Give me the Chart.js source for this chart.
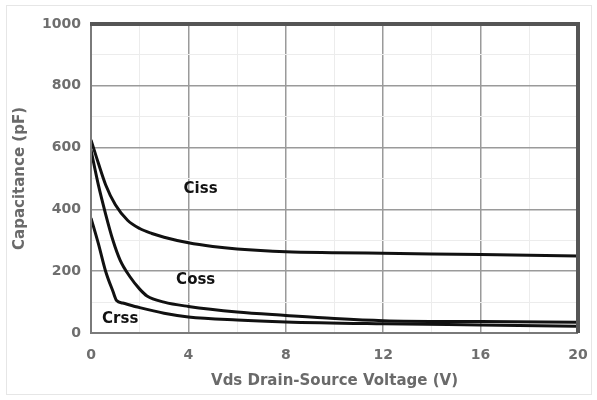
<!DOCTYPE html>
<html>
<head>
<meta charset="utf-8">
<script src="https://cdn.jsdelivr.net/npm/chart.js@4"></script>
<style>
  html, body { margin: 0; padding: 0; background: #fff; }
  #wrap { width: 597px; height: 400px; position: relative; }
</style>
</head>
<body>
<div id="wrap"><canvas id="capChart" width="597" height="400"></canvas></div>
<script>
// Vds (V) sample points and capacitance (pF)
const cissVds = [0, 0.3, 0.6, 1, 1.5, 2, 2.5, 3, 4, 5, 6, 8, 10, 12, 14, 16, 18, 20];
const cissPf  = [625, 550, 480, 415, 365, 338, 322, 310, 292, 280, 272, 263, 260, 258, 256, 254, 252, 249];

const cossVds = [0, 0.3, 0.6, 0.9, 1.2, 1.6, 2, 2.3, 3, 4, 6, 8, 10, 12, 16, 20];
const cossPf  = [592, 480, 385, 300, 235, 182, 142, 120, 100, 86, 68, 57, 47, 40, 37, 35];

const crssVds = [0, 0.3, 0.6, 0.9, 1.05, 1.3, 2, 3, 4, 6, 8, 12, 16, 20];
const crssPf  = [372, 290, 200, 135, 105, 97, 82, 64, 52, 42, 36, 30, 26, 22];

const xTicks = [0, 4, 8, 12, 16, 20];
const yTicks = [0, 200, 400, 600, 800, 1000];

const curveLabels = ['Ciss', 'Coss', 'Crss'];
const labelVds = [4.5, 4.3, 1.2];
const labelPf  = [465, 170, 45];

const toPoints = (xs, ys) => xs.map((x, i) => ({ x: x, y: ys[i] }));

const frame = {
  id: 'frame',
  beforeDraw(chart) {
    const c = chart.ctx;
    c.save();
    c.strokeStyle = '#e6e6e6';
    c.lineWidth = 1;
    c.strokeRect(6.5, 5.5, 585, 389);
    c.restore();
  },
  afterDatasetsDraw(chart) {
    const c = chart.ctx;
    const a = chart.chartArea;
    const xs = chart.scales.x, ys = chart.scales.y;
    c.save();
    // left and bottom edges
    c.strokeStyle = '#7a7a7a';
    c.lineWidth = 2;
    c.beginPath();
    c.moveTo(a.left, a.top);
    c.lineTo(a.left, a.bottom);
    c.lineTo(a.right, a.bottom);
    c.stroke();
    // thick top and right edges
    c.strokeStyle = '#555';
    c.lineWidth = 4;
    c.beginPath();
    c.moveTo(a.left - 1, a.top);
    c.lineTo(a.right, a.top);
    c.lineTo(a.right, a.bottom);
    c.stroke();
    // curve names
    c.fillStyle = '#111';
    c.font = 'bold 15px "DejaVu Sans", sans-serif';
    c.textAlign = 'center';
    c.textBaseline = 'middle';
    curveLabels.forEach((t, i) => {
      c.fillText(t, xs.getPixelForValue(labelVds[i]), ys.getPixelForValue(labelPf[i]));
    });
    c.restore();
  }
};

const tickFont = { family: '"DejaVu Sans", sans-serif', size: 14, weight: 'bold' };
const titleFont = { family: '"DejaVu Sans", sans-serif', size: 15, weight: 'bold' };

new Chart(document.getElementById('capChart'), {
  type: 'line',
  data: {
    datasets: [
      { label: 'Ciss', data: toPoints(cissVds, cissPf) },
      { label: 'Coss', data: toPoints(cossVds, cossPf) },
      { label: 'Crss', data: toPoints(crssVds, crssPf) }
    ].map(d => Object.assign(d, {
      borderColor: '#111',
      borderWidth: 3,
      pointRadius: 0,
      cubicInterpolationMode: 'monotone',
      fill: false
    }))
  },
  options: {
    responsive: false,
    animation: false,
    layout: { padding: { left: 0, right: 19, top: 24, bottom: 0 } },
    plugins: { legend: { display: false }, tooltip: { enabled: false } },
    scales: {
      x: {
        type: 'linear',
        min: 0,
        max: 20,
        afterFit: s => { s.height = 67; s.paddingLeft = 0; s.paddingRight = 0; },
        border: { display: false },
        grid: {
          drawTicks: false,
          color: ctx => (ctx.tick && xTicks.includes(ctx.tick.value)) ? '#9a9a9a' : '#ececec',
          lineWidth: ctx => (ctx.tick && xTicks.includes(ctx.tick.value)) ? 1.5 : 1
        },
        ticks: {
          stepSize: 2,
          padding: 14,
          color: '#6e6e6e',
          font: tickFont,
          maxRotation: 0,
          callback: v => xTicks.includes(v) ? v : ''
        },
        title: {
          display: true,
          text: 'Vds Drain-Source Voltage (V)',
          color: '#6a6a6a',
          font: titleFont,
          padding: { top: 4, bottom: 10 }
        }
      },
      y: {
        min: 0,
        max: 1000,
        afterFit: s => { s.width = 91; s.paddingTop = 0; s.paddingBottom = 0; },
        border: { display: false },
        grid: {
          drawTicks: false,
          color: ctx => (ctx.tick && yTicks.includes(ctx.tick.value)) ? '#9a9a9a' : '#ececec',
          lineWidth: ctx => (ctx.tick && yTicks.includes(ctx.tick.value)) ? 1.5 : 1
        },
        ticks: {
          stepSize: 100,
          padding: 10,
          color: '#6e6e6e',
          font: tickFont,
          callback: v => yTicks.includes(v) ? v : ''
        },
        title: {
          display: true,
          text: 'Capacitance (pF)',
          color: '#6a6a6a',
          font: titleFont,
          padding: { top: 11, bottom: 0 }
        }
      }
    }
  },
  plugins: [frame]
});
</script>
</body>
</html>
